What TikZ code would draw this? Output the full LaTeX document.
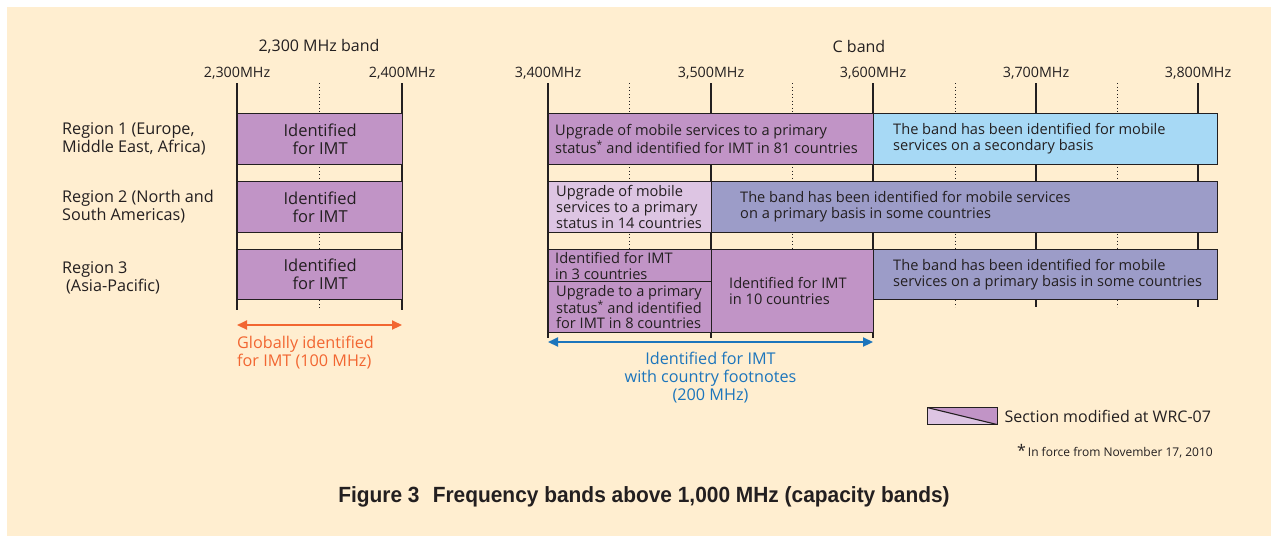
\documentclass[tikz,border=0pt]{standalone}
\usepackage{fontspec}
\setmainfont{Open Sans}
\newfontfamily\captfont[FakeStretch=0.95]{Liberation Sans}
\usetikzlibrary{positioning,arrows.meta}
\definecolor{cream}{HTML}{FFEED0}
\definecolor{imtpurple}{HTML}{C194C6}
\definecolor{lavender}{HTML}{DDC5E3}
\definecolor{skyblue}{HTML}{A7D9F5}
\definecolor{slate}{HTML}{9C9CC8}
\definecolor{ink}{HTML}{231F20}
\definecolor{orangeline}{HTML}{F26631}
\definecolor{blueline}{HTML}{1C75BC}
\tikzset{
  tick/.style={draw=ink, line width=2.4pt},
  subtick/.style={draw=ink, line width=1pt, dash pattern=on 1.2pt off 2.3pt},
  band/.style={
    draw=ink,
    line width=1.3pt,
    anchor=north west,
    inner sep=0pt,
    text=ink,
    align=center,
    font=\fontsize{16.5}{18}\selectfont,
  },
  bandtext/.style={
    inner sep=0pt,
    anchor=west,
    align=left,
    text=ink,
    font=\fontsize{14.6}{16}\selectfont,
  },
  freqlabel/.style={text=ink, inner sep=0pt, font=\fontsize{14.3}{16}\selectfont},
  header/.style={text=ink, inner sep=0pt, font=\fontsize{16}{18}\selectfont},
  regionlabel/.style={text=ink, inner sep=0pt, anchor=west, align=left, font=\fontsize{16.2}{18}\selectfont},
  rangearrow/.style={line width=2.2pt, {Triangle[length=10pt,width=9pt]}-{Triangle[length=10pt,width=9pt]}},
  legendbox/.style={
    draw=ink,
    line width=1.3pt,
    anchor=north west,
    minimum width=70,
    minimum height=17,
    inner sep=0pt,
    path picture={
      \fill[lavender] (path picture bounding box.north west) -- (path picture bounding box.south east) -- (path picture bounding box.south west) -- cycle;
      \fill[imtpurple] (path picture bounding box.north west) -- (path picture bounding box.north east) -- (path picture bounding box.south east) -- cycle;
      \draw[ink, line width=1.1pt] (path picture bounding box.north west) -- (path picture bounding box.south east);
    },
  },
}

\begin{document}
\begin{tikzpicture}[x=1pt,y=-1pt]
  \useasboundingbox (0,0) rectangle (1271,536);
  \fill[white] (0,0) rectangle (1271,536);
  \fill[cream] (7,7) rectangle (1271,536);

  % frequency grid
  \foreach \x in {237,402} \draw[tick] (\x,83) -- (\x,310);
  \draw[subtick] (319,83) -- (319,310);
  \foreach \x in {548,711,873} \draw[tick] (\x,83) -- (\x,338);
  \foreach \x in {1036,1198} \draw[tick] (\x,83) -- (\x,307);
  \foreach \x in {629,792} \draw[subtick] (\x,83) -- (\x,332);
  \foreach \x in {955,1117} \draw[subtick] (\x,83) -- (\x,307);

  \foreach \x/\f in {237/{2,300},402/{2,400},548/{3,400},711/{3,500},873/{3,600},1036/{3,700},1198/{3,800}}
    \node[freqlabel] (f\x) at (\x,73) {\f MHz};

  \node[header] (hband) at (319,46) {2,300 MHz band};
  \node[header] (cband) at (859,46) {C band};

  % regions
  \node[regionlabel] (reg1) at (62,139) {Region 1 (Europe,\\Middle East, Africa)};
  \node[regionlabel] (reg2) at (62,206.5) {Region 2 (North and\\South Americas)};
  \node[regionlabel] (reg3) at (62,278) {Region 3\\\hspace{4pt}(Asia-Pacific)};

  % 2,300 MHz band
  \node[band, fill=imtpurple, minimum width=165, minimum height=51] (a1) at (237,113) {Identified\\for IMT};
  \node[band, fill=imtpurple, minimum width=165, minimum height=51] (a2) at (237,181) {Identified\\for IMT};
  \node[band, fill=imtpurple, minimum width=165, minimum height=50] (a3) at (237,249) {Identified\\for IMT};

  % C band
  \node[band, fill=imtpurple, minimum width=325, minimum height=51] (c1a) at (548,113) {};
  \node[band, fill=skyblue, minimum width=344, minimum height=51] (c1b) at (873,113) {};
  \node[band, fill=lavender, minimum width=163, minimum height=51] (c2a) at (548,181) {};
  \node[band, fill=slate, minimum width=506, minimum height=51] (c2b) at (711,181) {};
  \node[band, fill=imtpurple, minimum width=163, minimum height=32] (c3a) at (548,249) {};
  \node[band, fill=imtpurple, minimum width=163, minimum height=51] (c3b) at (548,281) {};
  \node[band, fill=imtpurple, minimum width=162, minimum height=83] (c3c) at (711,249) {};
  \node[band, fill=slate, minimum width=344, minimum height=50] (c3d) at (873,249) {};

  \node[bandtext, right=7pt of c1a.west] (t1a) {Upgrade of mobile services to a primary\\status\textsuperscript{*} and identified for IMT in 81 countries};
  \node[bandtext, right=20pt of c1b.west] (t1b) {The band has been identified for mobile\\services on a secondary basis};
  \node[bandtext, right=8pt of c2a.west] (t2a) {Upgrade of mobile\\services to a primary\\status in 14 countries};
  \node[bandtext, right=29pt of c2b.west] (t2b) {The band has been identified for mobile services\\on a primary basis in some countries};
  \node[bandtext, right=7pt of c3a.west] (t3a) {Identified for IMT\\in 3 countries};
  \node[bandtext, right=8pt of c3b.west, font=\fontsize{14.6}{15}\selectfont] (t3b) {Upgrade to a primary\\status\textsuperscript{*} and identified\\for IMT in 8 countries};
  \node[bandtext, right=18pt of c3c.west] (t3c) {Identified for IMT\\in 10 countries};
  \node[bandtext, right=20pt of c3d.west] (t3d) {The band has been identified for mobile\\services on a primary basis in some countries};

  % identified ranges
  \coordinate (g1) at (237,325);
  \coordinate (g2) at (402,325);
  \draw[rangearrow, orangeline] (g1) -- (g2);
  \node[regionlabel, text=orangeline, below=11pt of g1, anchor=north west] (gtext) {Globally identified\\for IMT (100 MHz)};

  \coordinate (k1) at (548,342);
  \coordinate (k2) at (873,342);
  \draw[rangearrow, blueline] (k1) -- node[below=9pt, regionlabel, anchor=north, align=center, text=blueline] (ktext) {Identified for IMT\\with country footnotes\\(200 MHz)} (k2);

  % legend
  \node[legendbox] (legbox) at (927,407) {};
  \node[header, right=6pt of legbox] (legtext) {Section modified at WRC-07};
  \node[text=ink, inner sep=0pt, anchor=east, font=\fontsize{12}{14}\selectfont] (fnote) at (1213,451) {{\fontsize{16}{16}\selectfont *}\,In force from November 17, 2010};

  \node[inner sep=0pt, text=ink, font=\captfont\bfseries\fontsize{22}{24}\selectfont] (title) at (644,497) {Figure 3\hspace{0.6em}Frequency bands above 1,000 MHz (capacity bands)};
\end{tikzpicture}
\end{document}
